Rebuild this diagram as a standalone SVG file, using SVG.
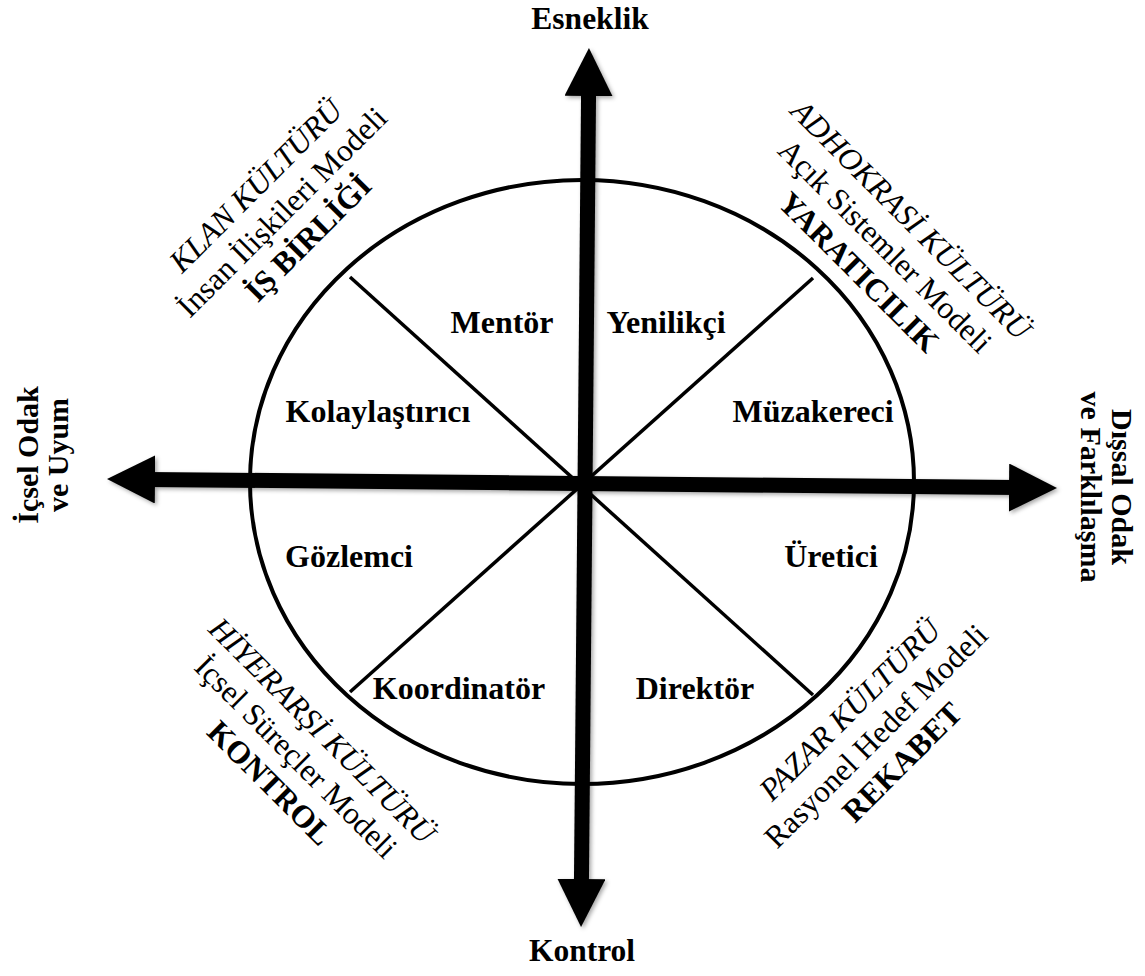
<svg xmlns="http://www.w3.org/2000/svg" width="1145" height="976" viewBox="0 0 1145 976">
<style>
  .lbl{font-family:"Liberation Serif","Times New Roman",serif;font-weight:bold;font-size:32px;fill:#000;text-anchor:middle}
  .ax{font-family:"Liberation Serif","Times New Roman",serif;font-weight:bold;font-size:31.5px;fill:#000;text-anchor:middle}
  .sx{font-size:30px}
  .ct{font-family:"Liberation Serif","Times New Roman",serif;font-size:31.5px;fill:#000;text-anchor:middle}
  .it{font-style:italic}
  .bd{font-weight:bold}
  .shape{fill:none;stroke:#000}
  .arrow{stroke:#000;stroke-width:15;fill:none}
</style>
<defs>
  <marker id="head" viewBox="0 0 48 48" markerWidth="48" markerHeight="48" markerUnits="userSpaceOnUse" refX="8" refY="24" orient="auto-start-reverse">
    <path d="M0,0 L48,24 L0,48 Z" fill="#000"/>
  </marker>
  <filter id="shadow" x="-10%" y="-10%" width="120%" height="120%">
    <feDropShadow dx="2" dy="2" stdDeviation="2" flood-color="#000" flood-opacity="0.35"/>
  </filter>
</defs>
<rect width="1145" height="976" fill="#fff"/>
<g id="wheel">
  <ellipse cx="582" cy="482" rx="332" ry="302" class="shape" stroke-width="4"/>
</g>
<g id="connectors">
  <line x1="350" y1="277" x2="813" y2="695" class="shape" stroke-width="3.5"/>
  <line x1="813" y1="278" x2="350" y2="692" class="shape" stroke-width="3.5"/>
  <g filter="url(#shadow)">
    <line x1="588.6" y1="88" x2="581.4" y2="887" class="arrow" marker-start="url(#head)" marker-end="url(#head)"/>
    <line x1="147" y1="479.4" x2="1017" y2="487.6" class="arrow" marker-start="url(#head)" marker-end="url(#head)"/>
  </g>
</g>
<g id="axis-top"><text class="ax" x="590" y="29">Esneklik</text></g>
<g id="axis-bottom"><text class="ax" x="582" y="961">Kontrol</text></g>
<g id="axis-left" transform="translate(0,455) rotate(-90)">
  <text class="ax sx" x="0" y="38">İçsel Odak</text>
  <text class="ax sx" x="0" y="68">ve Uyum</text>
</g>
<g id="axis-right" transform="translate(1112,487) rotate(90)">
  <text class="ax sx" x="0" y="0">Dışsal Odak</text>
  <text class="ax sx" x="0" y="31">ve Farklılaşma</text>
</g>
<g id="role-mentor"><text class="lbl" x="502" y="333">Mentör</text></g>
<g id="role-yenilikci"><text class="lbl" x="666" y="333">Yenilikçi</text></g>
<g id="role-kolaylastirici"><text class="lbl" x="378" y="422">Kolaylaştırıcı</text></g>
<g id="role-muzakereci"><text class="lbl" x="813" y="422">Müzakereci</text></g>
<g id="role-gozlemci"><text class="lbl" x="349" y="567">Gözlemci</text></g>
<g id="role-uretici"><text class="lbl" x="831" y="567">Üretici</text></g>
<g id="role-koordinator"><text class="lbl" x="459" y="699">Koordinatör</text></g>
<g id="role-direktor"><text class="lbl" x="695" y="699">Direktör</text></g>
<g id="klan" transform="translate(283,213) rotate(-45)">
  <text class="ct it" x="0" y="-28">KLAN KÜLTÜRÜ</text>
  <text class="ct" x="0" y="9">İnsan İlişkileri Modeli</text>
  <text class="ct bd" x="0" y="46">İŞ BİRLİĞİ</text>
</g>
<g id="adhokrasi" transform="translate(884,247) rotate(45)">
  <text class="ct it" x="0" y="-28">ADHOKRASİ KÜLTÜRÜ</text>
  <text class="ct" x="0" y="9">Açık Sistemler Modeli</text>
  <text class="ct bd" x="0" y="46">YARATICILIK</text>
</g>
<g id="hiyerarsi" transform="translate(295,758) rotate(45)">
  <text class="ct it" x="0" y="-28">HİYERARŞİ KÜLTÜRÜ</text>
  <text class="ct" x="0" y="9">İçsel Süreçler Modeli</text>
  <text class="ct bd" x="0" y="46">KONTROL</text>
</g>
<g id="pazar" transform="translate(877,737) rotate(-45)">
  <text class="ct it" x="0" y="-28">PAZAR KÜLTÜRÜ</text>
  <text class="ct" x="0" y="9">Rasyonel Hedef Modeli</text>
  <text class="ct bd" x="0" y="46">REKABET</text>
</g>
</svg>
